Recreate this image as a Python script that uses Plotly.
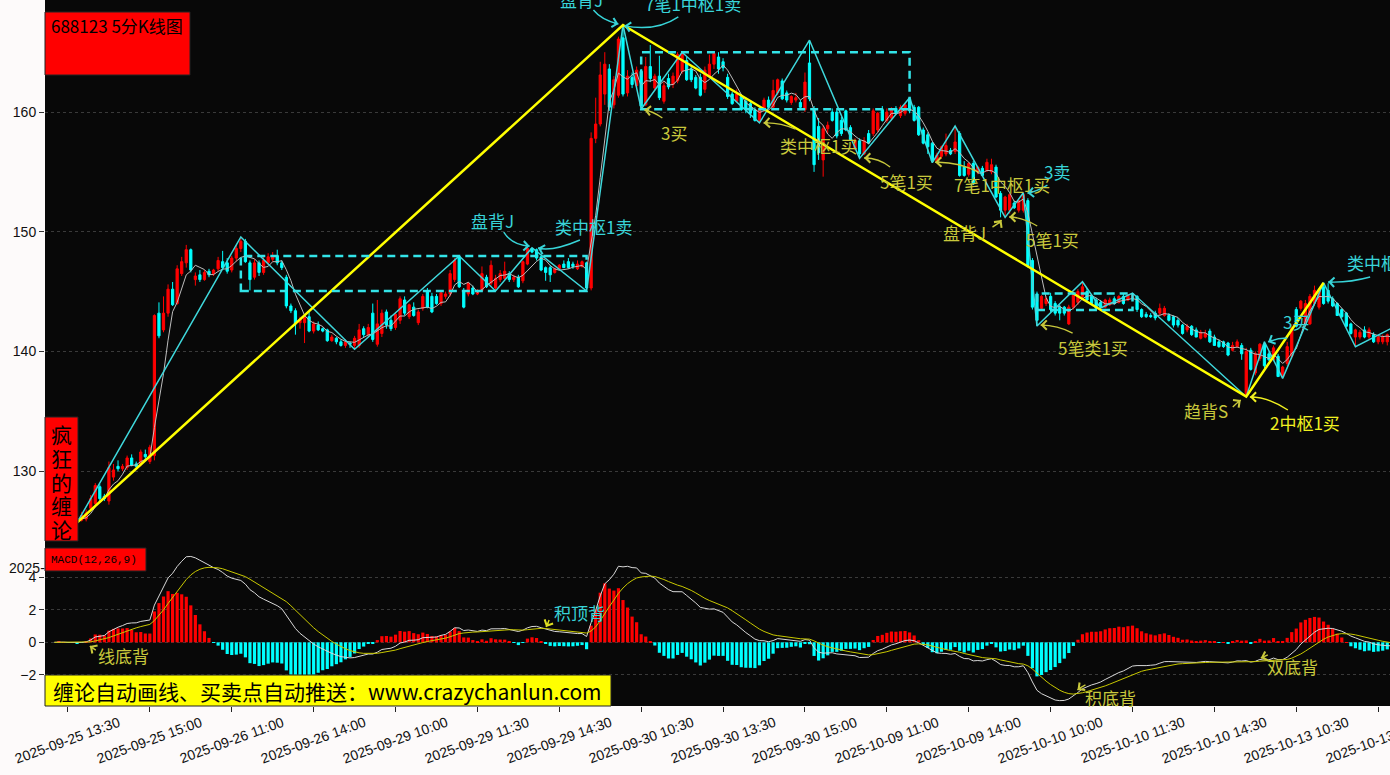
import plotly.graph_objects as go
import pandas as pd
import math

# ---------------- data ----------------
DATES = ["2025-09-25", "2025-09-26", "2025-09-29", "2025-09-30",
         "2025-10-09", "2025-10-10", "2025-10-13"]
FIRST_BAR = "13:15"

OPEN = [126.2,126.1,126.3,126.1,125.9,126.0,125.9,126.0,126.9,127.3,128.7,127.9,127.5,129.5,130.4,130.2,130.3,131.1,130.6,130.6,
        131.4,130.8,131.3,143.2,141.8,143.2,145.2,144.0,146.5,147.4,148.5,146.0,146.4,146.0,146.7,146.5,146.9,147.5,147.4,146.8,
        147.8,148.6,149.2,147.4,146.2,147.4,146.6,147.4,147.7,148.0,147.4,146.2,143.8,143.4,142.4,142.4,142.9,141.7,142.2,141.9,
        141.8,140.9,141.1,140.8,140.5,140.7,140.5,140.5,141.9,141.4,143.2,140.6,141.5,143.3,142.6,142.0,142.6,144.3,142.9,143.7,
        142.4,143.6,145.0,144.6,144.6,144.0,144.6,144.8,146.0,147.9,145.1,144.8,145.3,144.8,145.1,146.2,145.7,145.3,146.0,146.1,
        146.5,146.0,146.2,145.9,147.3,148.6,148.5,147.9,147.0,147.0,146.6,146.9,147.3,147.5,147.3,146.9,147.1,147.4,145.3,157.8,
        159.0,161.5,163.6,160.6,161.4,166.2,161.6,162.9,162.2,163.4,160.6,163.8,162.0,163.0,160.9,162.8,162.3,162.6,163.4,164.3,
        163.6,162.9,162.9,161.9,163.0,164.0,164.6,164.2,162.9,161.5,160.9,161.3,160.9,160.7,160.2,159.3,160.2,161.0,160.4,161.6,
        162.6,161.6,160.8,161.0,160.8,160.2,164.1,160.2,158.8,156.0,158.6,160.0,160.0,159.3,160.1,158.7,157.0,157.6,156.5,158.2,
        158.2,158.5,160.2,159.3,159.5,160.3,159.7,159.9,161.1,160.4,160.4,158.5,158.1,157.4,155.9,156.3,156.5,156.8,156.7,158.2,
        155.4,154.8,155.7,155.0,155.3,155.1,155.0,155.4,153.2,151.8,151.8,152.4,151.8,151.8,152.6,147.6,144.8,143.6,144.0,144.6,
        144.0,143.7,143.7,142.3,143.7,144.1,144.6,145.0,144.6,144.3,144.1,143.7,143.9,144.4,144.1,144.6,144.3,144.4,144.6,143.5,
        143.1,143.0,143.2,143.2,143.0,143.0,142.9,142.6,142.2,141.8,142.1,141.8,141.1,141.2,141.7,141.2,140.8,140.8,140.7,140.1,
        140.4,140.5,136.4,140.1,138.2,139.4,140.6,139.8,139.3,139.6,137.9,139.0,139.6,143.5,143.6,142.3,142.3,144.0,143.7,145.4,
        145.1,144.4,144.0,143.5,143.2,142.3,141.2,141.2,141.8,141.2,141.4,140.8,140.8,140.8,141.0,141.5]
HIGH = [126.5,126.4,126.5,126.3,126.2,126.2,126.6,126.8,128.0,129.0,128.9,128.1,130.8,130.6,130.9,130.6,131.3,131.4,130.8,131.8,
        131.8,132.2,143.1,144.1,144.6,145.6,145.8,147.2,147.9,148.9,148.6,146.6,146.8,146.8,146.9,146.9,147.9,148.4,147.8,148.0,
        148.9,149.56,149.4,147.6,147.7,147.6,147.9,148.2,148.3,148.5,147.6,146.4,144.0,143.6,142.9,143.1,143.3,142.5,142.5,142.0,
        141.9,141.4,141.2,141.0,141.0,140.8,141.3,142.3,142.1,142.3,144.0,144.3,143.5,143.5,143.0,143.3,144.6,144.6,144.0,144.1,
        143.5,144.8,145.3,144.9,144.8,145.1,145.0,146.8,147.8,147.97,145.3,145.8,145.5,145.2,147.1,146.4,147.6,146.4,146.8,147.5,
        146.7,146.4,146.4,147.6,148.7,148.66,148.6,148.0,147.1,147.2,147.0,147.3,147.6,147.8,147.5,147.6,147.6,147.5,158.3,161.2,
        164.2,165.0,164.0,163.0,166.3,167.27,163.5,163.3,163.8,163.6,164.6,165.6,163.2,164.7,162.5,163.2,163.3,165.0,164.99,164.6,
        163.9,163.1,163.2,163.8,164.8,165.0,165.0,164.5,163.2,161.7,161.9,161.5,161.2,161.0,160.4,160.4,161.2,161.3,162.7,162.8,
        162.8,161.8,161.4,161.6,161.0,163.3,166.0,160.5,159.5,158.9,159.2,160.3,160.2,159.6,160.2,158.9,157.8,157.8,157.9,158.5,
        160.3,160.0,160.5,160.3,160.4,160.5,160.6,160.7,161.2,160.6,160.5,158.7,158.3,157.5,156.6,157.2,158.2,157.0,158.83,158.4,
        155.9,155.8,155.9,155.5,155.5,156.1,156.1,155.6,153.4,153.0,153.2,152.6,152.8,153.26,152.8,147.8,145.0,144.7,144.6,144.9,
        144.2,143.9,143.8,143.9,145.0,145.2,145.82,145.3,144.8,144.5,144.3,144.4,144.5,144.6,144.7,144.8,144.8,144.88,144.7,143.6,
        143.3,143.2,143.4,144.0,143.8,143.2,143.0,142.8,142.3,142.3,142.2,142.0,141.8,141.8,141.9,141.4,141.0,140.9,140.8,140.8,
        141.0,140.7,140.3,140.3,140.0,140.7,140.81,140.0,140.5,139.8,138.8,140.8,142.3,143.7,144.3,144.3,144.8,145.5,145.3,145.74,
        145.7,144.6,144.1,143.6,143.3,142.4,141.9,141.8,142.1,142.0,141.6,141.3,141.4,141.5,141.8,141.7]
LOW = [125.9,125.9,126.0,125.8,125.7,125.7,125.8,125.8,126.7,127.0,127.5,127.5,127.2,129.2,130.0,130.0,130.1,130.4,130.3,130.4,
       131.0,130.6,130.9,141.1,141.6,142.9,143.8,143.9,146.3,147.0,146.6,145.5,145.8,145.9,146.2,146.3,146.7,146.8,146.5,146.6,
       147.5,148.3,147.4,145.1,146.0,146.3,146.4,147.2,147.5,147.2,146.8,143.6,143.2,141.4,141.9,140.7,141.6,141.5,141.7,141.6,
       140.8,140.8,140.6,140.4,140.3,140.3,140.18,140.3,141.2,141.2,140.8,140.4,141.2,141.9,141.7,141.8,142.3,143.0,142.7,142.9,
       142.2,143.4,143.6,143.2,143.9,143.8,144.4,144.6,145.8,145.3,143.6,144.6,144.7,144.7,145.0,145.3,145.5,145.05,145.8,146.0,
       145.8,145.8,145.3,145.7,147.2,148.2,147.6,146.7,145.9,145.8,146.5,146.8,147.0,146.9,146.9,146.8,147.0,145.05,145.1,157.4,
       158.8,160.6,160.1,160.3,161.2,161.3,161.3,162.0,162.0,160.25,160.5,162.5,161.8,161.0,160.7,161.9,162.0,162.4,163.2,162.6,
       162.5,161.9,161.3,161.6,162.9,163.6,163.2,163.4,161.1,160.6,160.8,160.1,159.9,159.5,159.2,159.1,160.0,160.3,160.3,161.4,
       161.0,160.8,160.6,160.8,160.2,160.0,160.9,155.0,156.0,154.6,158.2,159.2,157.8,158.0,158.4,157.6,156.8,156.13,156.4,157.3,
       158.0,158.3,159.2,159.1,159.3,159.8,159.5,159.7,159.9,159.2,158.0,157.3,156.5,155.77,155.8,156.1,156.3,156.4,156.5,154.6,
       154.6,154.6,153.9,154.8,154.6,155.0,154.8,152.8,151.2,151.2,151.5,151.9,151.6,151.6,147.0,143.5,142.12,143.4,143.8,143.3,
       143.0,142.6,143.0,142.2,143.5,143.9,144.4,144.2,143.9,143.5,143.63,143.6,143.8,143.9,144.0,143.9,144.2,144.3,143.3,142.8,
       142.8,142.8,142.6,143.0,142.9,142.5,142.0,142.0,141.4,141.6,141.3,141.2,141.0,141.1,140.7,140.5,140.3,140.3,139.6,140.0,
       140.3,139.3,136.22,138.4,138.0,139.2,138.6,139.2,139.2,137.9,137.75,138.8,139.4,142.0,143.4,142.1,142.2,143.8,143.5,143.9,
       144.0,143.7,143.0,142.8,142.0,141.4,140.39,141.0,141.1,141.0,140.7,140.6,140.6,140.5,140.9,141.0]
CLOSE = [126.1,126.3,126.1,125.9,126.0,125.8,126.3,126.5,127.7,128.8,127.7,127.7,130.3,130.1,130.2,130.4,131.1,130.5,130.4,131.6,
         131.2,132.0,143.0,141.3,143.2,145.2,143.9,146.9,147.5,148.5,146.8,146.3,146.0,146.6,146.4,146.8,147.6,147.0,146.7,147.8,
         148.6,149.2,147.5,146.0,147.4,146.6,147.6,147.9,148.0,147.4,147.0,143.8,143.4,142.3,142.7,142.9,141.7,142.3,141.8,141.7,
         140.9,141.2,140.8,140.5,140.8,140.6,141.1,141.8,141.4,142.0,141.0,142.3,143.2,142.2,141.9,143.1,144.4,143.2,143.9,143.0,
         143.3,144.6,143.7,143.3,144.0,144.9,144.8,146.5,147.6,145.4,143.7,145.7,144.8,145.1,146.5,145.4,147.2,146.1,146.5,146.7,
         146.0,146.2,145.4,147.5,148.6,148.3,147.8,146.8,146.6,146.4,146.9,147.2,147.0,147.0,147.1,147.3,147.5,145.3,157.8,159.0,
         163.1,164.0,160.4,162.7,166.1,161.5,163.0,162.3,163.5,160.5,163.8,162.8,163.0,161.2,162.2,162.1,163.0,164.8,164.9,162.7,
         162.7,162.0,161.4,163.5,164.0,164.9,163.6,163.7,161.3,160.7,161.5,160.2,160.2,159.9,159.3,160.2,161.0,160.4,161.8,162.7,
         161.1,161.0,161.3,161.2,160.4,162.5,161.1,155.6,156.6,158.6,158.9,159.3,158.0,158.2,158.5,157.7,157.6,156.5,157.6,157.4,
         160.1,159.9,159.3,160.0,160.2,159.9,160.4,160.6,160.1,159.3,158.1,157.4,157.1,155.9,156.4,157.1,157.2,156.5,157.5,154.7,
         154.7,155.7,154.0,155.4,154.7,155.8,155.6,152.9,151.8,152.9,153.1,152.0,152.6,153.1,147.1,143.7,142.6,144.6,144.4,143.5,
         143.2,143.2,143.2,143.7,144.7,145.0,145.4,144.3,144.0,143.6,143.7,144.3,144.3,144.0,144.6,144.0,144.7,144.8,143.5,142.9,
         142.9,142.9,142.8,143.6,143.6,142.6,142.2,142.2,141.5,142.1,141.4,141.2,141.6,141.5,140.8,140.5,140.4,140.4,139.7,140.5,
         140.8,139.8,140.0,138.5,139.8,140.6,138.8,139.3,140.3,137.9,138.7,140.4,142.0,142.1,144.2,144.0,144.6,145.1,145.1,144.0,
         144.2,143.8,143.0,142.9,142.1,141.5,141.8,141.6,141.2,141.8,140.8,141.2,141.2,141.4,141.5,141.1]

# Chan "bi" (strokes): turning bars and prices
BI_TIME = ["2025-09-25 13:40", "2025-09-26 11:10", "2025-09-26 14:45", "2025-09-29 11:10", "2025-09-29 13:20",
           "2025-09-29 14:00", "2025-09-29 15:00", "2025-09-30 10:10", "2025-09-30 10:30", "2025-09-30 11:15",
           "2025-09-30 14:10", "2025-10-09 09:35", "2025-10-09 10:30", "2025-10-09 11:25", "2025-10-09 13:20",
           "2025-10-09 13:45", "2025-10-09 14:40", "2025-10-09 15:00", "2025-10-10 09:45", "2025-10-10 10:35",
           "2025-10-10 10:55", "2025-10-10 11:30", "2025-10-13 09:35", "2025-10-13 09:55", "2025-10-13 10:15",
           "2025-10-13 11:00", "2025-10-13 13:05", "2025-10-13 13:45"]
BI_PRICE = [125.7, 149.56, 140.18, 147.97, 145.05, 148.66, 145.05, 167.27, 160.25, 164.99,
            159.1, 166.0, 156.13, 161.2, 155.77, 158.83, 151.2, 153.26, 142.12, 145.82,
            143.63, 144.88, 136.22, 140.81, 137.75, 145.74, 140.39, 141.95]
# segments (yellow)
SEG_TIME = ["2025-09-25 13:40", "2025-09-30 10:10", "2025-10-13 09:35", "2025-10-13 11:00"]
SEG_PRICE = [125.7, 167.27, 136.22, 145.74]
# pivots (dashed boxes)
ZS_START = ["2025-09-26 11:10", "2025-09-30 10:30", "2025-10-10 09:45"]
ZS_END = ["2025-09-29 15:00", "2025-10-09 11:25", "2025-10-10 11:30"]
ZS_LOW = [145.05, 160.23, 143.46]
ZS_HIGH = [147.97, 164.99, 144.85]

TICK_LABELS = ["2025-09-25 13:30", "2025-09-25 15:00", "2025-09-26 11:00", "2025-09-26 14:00",
               "2025-09-29 10:00", "2025-09-29 11:30", "2025-09-29 14:30", "2025-09-30 10:30",
               "2025-09-30 13:30", "2025-09-30 15:00", "2025-10-09 11:00", "2025-10-09 14:00",
               "2025-10-10 10:00", "2025-10-10 11:30", "2025-10-10 14:30", "2025-10-13 10:30",
               "2025-10-13 13:30"]

# signal labels: arrow tip (bar index, value), panel, text, style
SIG_K = [104.5, 106.3, 124.0, 125.3, 129.7, 155.9, 178.0, 193.6, 213.9, 208.2,
         209.9, 216.8, 260.8, 262.8, 266.8, 280.0, 7.8, 108.1, 224.9, 265.2]
SIG_V = [148.8, 148.64, 167.35, 167.2, 160.17, 159.08, 156.16, 155.8, 153.23, 150.98,
         151.23, 142.2, 135.94, 136.19, 140.79, 145.8, -0.23, 0.94, -2.92, -0.96]
SIG_PANEL = ["y"] * 16 + ["y2"] * 4
SIG_TEXT = ["盘背J", "类中枢1卖", "盘背J", "7笔1中枢1卖", "3买", "类中枢1买", "5笔1买", "7笔1中枢1买", "3卖", "盘背J",
            "5笔1买", "5笔类1买", "趋背S", "2中枢1买", "3买", "类中枢1卖", "线底背", "积顶背", "积底背", "双底背"]
SIG_STYLE = ["cyan", "cyan", "cyan", "cyan", "olive", "olive", "olive", "olive", "cyan", "olive",
             "olive", "olive", "olive", "bright", "cyan", "cyan", "olive", "cyanY", "olive", "olive"]
# decoration offsets in px relative to the tip: text centre, arrow tail, curve control
SIG_TXT_OFF = [(-37, -26), (56, -22), (-37, -25), (69, -22), (30, 22), (55, 22), (42, 23), (67, 22), (30, -22), (-37, 12),
               (43, 22), (52, 22), (-35, 10), (55, 25), (28, -20), (57, -20), (34, 9), (33, -14), (33, 8), (32, 9)]
SIG_TAIL_OFF = [(-26, -14), (42, -8), (-25, -14), (54, -9), (18, 8), (32, 6), (26, 9), (44, 10), (20, -8), (-9, 7),
                (28, 9), (32, 8), (-8, 7), (38, 13), (19, -4), (42, -5), (6, 4), (3, -7), (8, -5), (7, -3)]
SIG_CTRL_OFF = [(-18, -1), (14, 4), (-17, -4), (32, 6), (8, 1), (15, -1), (15, 0), (22, -1), (8, -1), (-3, 4),
                (13, 0), (17, 0), (-4, 3), (19, 0), (9, -4), (20, 1), (3, 2), (2, -4), (4, -3), (3, -1)]

# ---------------- derived ----------------
def bar_times():
    out = []
    for d_i, d in enumerate(DATES):
        slots = []
        for start, n in (("09:35", 24), ("13:05", 24)):
            t0 = pd.Timestamp(d + " " + start)
            slots += [t0 + pd.Timedelta(minutes=5 * j) for j in range(n)]
        if d_i == 0:
            slots = [s for s in slots if s >= pd.Timestamp(d + " " + FIRST_BAR)]
        out += [s.strftime("%Y-%m-%d %H:%M") for s in slots]
    return out[:len(CLOSE)]

X = bar_times()
cs = pd.Series(CLOSE)
MA5 = cs.rolling(5, min_periods=1).mean()
dif = cs.ewm(span=12, adjust=False).mean() - cs.ewm(span=26, adjust=False).mean()
dea = dif.ewm(span=9, adjust=False).mean()
hist = 2 * (dif - dea)

# ---------------- layout geometry ----------------
W, H = 1390, 775
ML, MB = 45, 69
PW, PH = W - ML, H - MB
SPLIT = 553
split_dom = (PH - SPLIT) / PH
XR = [-2.05, 293.6]
YR1 = [123.16, 169.36]
YR2 = [-3.9, 5.47]

def pxx(p):
    return (p - ML) / PW

def pxy(p):
    return (PH - p) / PH

def tip_px(k, v, panel):
    x = ML + (k - XR[0]) / (XR[1] - XR[0]) * PW
    if panel == "y":
        y = SPLIT * (YR1[1] - v) / (YR1[1] - YR1[0])
    else:
        y = SPLIT + (PH - SPLIT) * (YR2[1] - v) / (YR2[1] - YR2[0])
    return x, y

RED, CYAN = "#ff0000", "#00ffff"
BI_COL, ZS_COL, SEG_COL = "#3fd8dc", "#33e4e8", "#ffff00"
TXT = {"cyan": "#38d4d8", "olive": "#c8c83c", "bright": "#f0f020", "cyanY": "#38d4d8"}
ARR = {"cyan": "#38d4d8", "olive": "#c8c83c", "bright": "#f0f020", "cyanY": "#e0e020"}
CJK = "Noto Sans CJK SC"

fig = go.Figure()
fig.add_trace(go.Candlestick(
    x=X, open=OPEN, high=HIGH, low=LOW, close=CLOSE,
    increasing=dict(line=dict(color=RED, width=1), fillcolor=RED),
    decreasing=dict(line=dict(color=CYAN, width=1), fillcolor=CYAN),
    whiskerwidth=0, xaxis="x", yaxis="y", showlegend=False, hoverinfo="skip"))
fig.add_trace(go.Scatter(x=X, y=MA5, mode="lines", line=dict(color="#bdbdbd", width=1),
                         xaxis="x", yaxis="y", showlegend=False, hoverinfo="skip"))
fig.add_trace(go.Scatter(x=BI_TIME, y=BI_PRICE, mode="lines", line=dict(color=BI_COL, width=1.5),
                         xaxis="x", yaxis="y", showlegend=False, hoverinfo="skip"))
fig.add_trace(go.Scatter(x=SEG_TIME, y=SEG_PRICE, mode="lines", line=dict(color=SEG_COL, width=2.5),
                         xaxis="x", yaxis="y", showlegend=False, hoverinfo="skip"))

# MACD
fig.add_trace(go.Bar(x=X, y=hist, marker=dict(color=[RED if v >= 0 else CYAN for v in hist], line=dict(width=0)),
                     xaxis="x2", yaxis="y2", showlegend=False, hoverinfo="skip"))
fig.add_trace(go.Scatter(x=X, y=dif, mode="lines", line=dict(color="#d8d8d8", width=1),
                         xaxis="x2", yaxis="y2", showlegend=False, hoverinfo="skip"))
fig.add_trace(go.Scatter(x=X, y=dea, mode="lines", line=dict(color="#c8c800", width=1),
                         xaxis="x2", yaxis="y2", showlegend=False, hoverinfo="skip"))

shapes = []
for s, e, lo, hi in zip(ZS_START, ZS_END, ZS_LOW, ZS_HIGH):
    shapes.append(dict(type="rect", xref="x", yref="y", x0=s, x1=e, y0=lo, y1=hi,
                       line=dict(color=ZS_COL, width=2.5, dash="8px,5px"), fillcolor="rgba(0,0,0,0)"))
# label boxes
shapes += [
    dict(type="rect", xref="paper", yref="paper", x0=pxx(45), x1=pxx(190), y0=pxy(75), y1=pxy(12),
         fillcolor="#ff0000", line=dict(color="#222", width=1), layer="above"),
    dict(type="rect", xref="paper", yref="paper", x0=pxx(45), x1=pxx(78), y0=pxy(541), y1=pxy(417),
         fillcolor="#ff0000", line=dict(color="#222", width=1), layer="above"),
    dict(type="rect", xref="paper", yref="paper", x0=pxx(45), x1=pxx(146), y0=pxy(571), y1=pxy(548),
         fillcolor="#ff0000", line=dict(color="#222", width=1), layer="above"),
    dict(type="rect", xref="paper", yref="paper", x0=pxx(45), x1=pxx(611), y0=pxy(706), y1=pxy(675),
         fillcolor="#ffff00", line=dict(color="#222", width=1), layer="above"),
]

ann = []
ann.append(dict(xref="paper", yref="paper", x=pxx(49), y=pxy(25), xanchor="left", yanchor="middle",
                text="688123 5分K线图", showarrow=False, font=dict(family=CJK, size=17, color="#000")))
for i, ch in enumerate("疯狂的缠论"):
    ann.append(dict(xref="paper", yref="paper", x=pxx(61.5), y=pxy(434 + 23.75 * i), xanchor="center",
                    yanchor="middle", text=ch, showarrow=False, font=dict(family=CJK, size=21, color="#000")))
ann.append(dict(xref="paper", yref="paper", x=pxx(49), y=pxy(559.5), xanchor="left", yanchor="middle",
                text="MACD(12,26,9)", showarrow=False, font=dict(family="Liberation Mono", size=11, color="#000")))
ann.append(dict(xref="paper", yref="paper", x=pxx(51), y=pxy(691), xanchor="left", yanchor="middle",
                text="缠论自动画线、买卖点自动推送：www.crazychanlun.com", showarrow=False,
                font=dict(family=CJK, size=21, color="#000")))
ann.append(dict(xref="paper", yref="paper", x=pxx(27), y=pxy(568), xanchor="center", yanchor="middle",
                text="2025-", showarrow=False, font=dict(family="Liberation Sans", size=14, color="#111")))
for lab in TICK_LABELS:
    ann.append(dict(xref="x2", yref="paper", x=lab, y=pxy(740), xanchor="center", yanchor="middle",
                    text=lab, textangle=-20, showarrow=False,
                    font=dict(family="Liberation Sans", size=14, color="#111")))

# signal labels with curved arrows
for i in range(len(SIG_K)):
    k, v, panel = SIG_K[i], SIG_V[i], SIG_PANEL[i]
    sty = SIG_STYLE[i]
    tx, ty = tip_px(k, v, panel)
    ox, oy = SIG_TXT_OFF[i]
    sx, sy = SIG_TAIL_OFF[i]
    cx, cy = SIG_CTRL_OFF[i]
    ann.append(dict(xref="paper", yref="paper", x=pxx(tx + ox), y=pxy(ty + oy), xanchor="center",
                    yanchor="middle", text=SIG_TEXT[i], showarrow=False,
                    font=dict(family=CJK, size=17, color=TXT[sty])))
    path = "M {:.5f},{:.5f} Q {:.5f},{:.5f} {:.5f},{:.5f}".format(
        pxx(tx + sx), pxy(ty + sy), pxx(tx + cx), pxy(ty + cy), pxx(tx), pxy(ty))
    shapes.append(dict(type="path", xref="paper", yref="paper", path=path,
                       line=dict(color=ARR[sty], width=1.4), layer="above"))
    dx, dy = cx, cy
    if abs(dx) + abs(dy) < 2:
        dx, dy = sx, sy
    n = math.hypot(dx, dy) or 1.0
    ann.append(dict(xref="x" if panel == "y" else "x2", yref=panel, x=k, y=v,
                    ax=dx / n * 6, ay=dy / n * 6, text="", showarrow=True, arrowhead=4,
                    arrowsize=1.4, arrowwidth=1.3, arrowcolor=ARR[sty], standoff=0))

fig.update_layout(
    width=W, height=H, margin=dict(l=ML, r=0, t=0, b=MB),
    paper_bgcolor="#fdfafa", plot_bgcolor="#080808",
    bargap=0.3, showlegend=False, shapes=shapes, annotations=ann,
    xaxis=dict(domain=[0, 1], anchor="y", type="category", range=XR, rangeslider=dict(visible=False),
               showticklabels=False, showgrid=False, zeroline=False, ticks=""),
    yaxis=dict(domain=[split_dom, 1], range=YR1, tickvals=[130, 140, 150, 160],
               ticks="outside", ticklen=5, tickcolor="#333", showgrid=True, gridcolor="#3a3a3a",
               griddash="dot", zeroline=False, tickfont=dict(family="Liberation Sans", size=14, color="#111")),
    xaxis2=dict(domain=[0, 1], anchor="y2", type="category", range=XR, matches="x",
                tickvals=TICK_LABELS, showticklabels=False, ticks="outside", ticklen=5, tickcolor="#222",
                showgrid=False, zeroline=False),
    yaxis2=dict(domain=[0, split_dom], range=YR2, tickvals=[-2, 0, 2, 4],
                ticks="outside", ticklen=5, tickcolor="#333", showgrid=True, gridcolor="#3a3a3a",
                griddash="dot", zeroline=False, tickfont=dict(family="Liberation Sans", size=14, color="#111")),
)
fig.write_html("out.html", config={"displayModeBar": False},
               post_script="document.body.style.margin='0';document.body.style.overflow='hidden';")
